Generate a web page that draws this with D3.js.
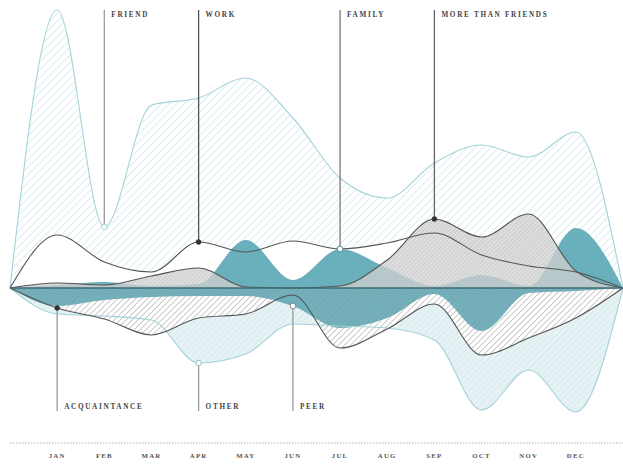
<!DOCTYPE html>
<html>
<head>
<meta charset="utf-8">
<script src="https://cdn.jsdelivr.net/npm/d3@7"></script>
<style>
  body { margin: 0; background: #fff; }
  text { font-family: 'Liberation Serif', 'DejaVu Serif', serif; font-weight: bold; }
</style>
</head>
<body>
<div id="chart"></div>
<script>
// Month labels
const months = ['JAN', 'FEB', 'MAR', 'APR', 'MAY', 'JUN', 'JUL', 'AUG', 'SEP', 'OCT', 'NOV', 'DEC'];

// Series above the baseline
const friend = [278, 61, 183, 190, 210, 170, 110, 90, 125, 143, 131, 156];
const work = [53, 26, 16, 46, 36, 47, 39, 45, 55, 33, 22, 16];
const family = [3, 6, 2, 4, 48, 8, 39, 20, 2, 13, 2, 60];
const moreThanFriends = [5, 3, 12, 20, 1, 0, 2, 28, 69, 51, 74, 17];

// Series below the baseline (depth)
const other = [26, 28, 32, 75, 66, 36, 38, 40, 52, 122, 82, 124];
const acquaintance = [20, 31, 47, 30, 26, 7, 60, 41, 16, 67, 50, 30];
const peer = [18, 12, 9, 8, 8, 18, 40, 30, 6, 43, 5, 3];

const width = 623;
const height = 464;

const svg = d3.select('#chart').append('svg')
  .attr('width', width)
  .attr('height', height);

// Hatch patterns
const defs = svg.append('defs');
function hatch(id, color, size, strokeWidth) {
  const p = defs.append('pattern')
    .attr('id', id)
    .attr('patternUnits', 'userSpaceOnUse')
    .attr('width', size)
    .attr('height', size)
    .attr('patternTransform', 'rotate(45)');
  p.append('line')
    .attr('x1', 0).attr('y1', 0).attr('x2', 0).attr('y2', size)
    .attr('stroke', color)
    .attr('stroke-width', strokeWidth);
}
hatch('hatchBlue', '#b6dae0', 5.5, 1);
hatch('hatchPale', '#c6e2e7', 4.5, 0.9);
hatch('hatchGray', '#959595', 4.2, 1);
hatch('hatchMtf', '#b3b3b3', 3, 0.8);

// Scales: edge points (index 0 and 13) sit on the baseline
const xScale = d3.scaleLinear().domain([0, 13]).range([10, 623]);
const yScale = d3.scaleLinear().domain([-140, 280]).range([428, 8]);

const pad = (vals) => [0, ...vals, 0];

function areaFor(sign) {
  return d3.area()
    .x((d, i) => xScale(i))
    .y0(yScale(0))
    .y1((d) => yScale(sign * d))
    .curve(d3.curveMonotoneX);
}
function lineFor(sign) {
  return d3.line()
    .x((d, i) => xScale(i))
    .y((d) => yScale(sign * d))
    .curve(d3.curveMonotoneX);
}
const up = areaFor(1), down = areaFor(-1);
const upLine = lineFor(1), downLine = lineFor(-1);

const g = svg.append('g');

// Fills, back to front
g.append('path').attr('d', up(pad(friend))).attr('fill', 'url(#hatchBlue)');
g.append('path').attr('d', down(pad(other))).attr('fill', '#e6f2f4');
g.append('path').attr('d', down(pad(other))).attr('fill', 'url(#hatchPale)');
g.append('path').attr('d', up(pad(work))).attr('fill', '#fff');
g.append('path').attr('d', down(pad(acquaintance))).attr('fill', '#fff');
g.append('path').attr('d', up(pad(family))).attr('fill', '#6aafbc');
g.append('path').attr('d', down(pad(peer))).attr('fill', '#5fa8b6').attr('opacity', 0.9);
g.append('path').attr('d', down(pad(acquaintance))).attr('fill', 'url(#hatchGray)');
g.append('path').attr('d', up(pad(moreThanFriends))).attr('fill', '#d4d4d4').attr('opacity', 0.75);
g.append('path').attr('d', up(pad(moreThanFriends))).attr('fill', 'url(#hatchMtf)');

// Outlines
g.append('path').attr('d', upLine(pad(friend))).attr('fill', 'none').attr('stroke', '#a3d2d9').attr('stroke-width', 1.1);
g.append('path').attr('d', downLine(pad(other))).attr('fill', 'none').attr('stroke', '#a3d2d9').attr('stroke-width', 1.1);
[[upLine, work], [upLine, moreThanFriends], [downLine, acquaintance]].forEach(([gen, vals]) => {
  g.append('path').attr('d', gen(pad(vals))).attr('fill', 'none').attr('stroke', '#555').attr('stroke-width', 1.1);
});

// Baseline
g.append('line')
  .attr('x1', xScale(0)).attr('x2', xScale(13))
  .attr('y1', yScale(0)).attr('y2', yScale(0))
  .attr('stroke', '#3e6b73').attr('stroke-width', 1.6);

// Callouts
const callouts = [
  { name: 'FRIEND', vals: friend, m: 1, side: 1, line: '#9a9a9a', dot: 'open', color: '#a3d2d9' },
  { name: 'WORK', vals: work, m: 3, side: 1, line: '#555', dot: 'fill', color: '#333' },
  { name: 'FAMILY', vals: family, m: 6, side: 1, line: '#777', dot: 'open', color: '#5d8f98' },
  { name: 'MORE THAN FRIENDS', vals: moreThanFriends, m: 8, side: 1, line: '#666', dot: 'fill', color: '#333' },
  { name: 'ACQUAINTANCE', vals: acquaintance, m: 0, side: -1, line: '#999', dot: 'fill', color: '#333' },
  { name: 'OTHER', vals: other, m: 3, side: -1, line: '#999', dot: 'open', color: '#8cc4cc' },
  { name: 'PEER', vals: peer, m: 5, side: -1, line: '#999', dot: 'open', color: '#888' },
];

const c = svg.append('g');
callouts.forEach((d) => {
  const x = xScale(d.m + 1);
  const y = yScale(d.side * d.vals[d.m]);
  const yEnd = d.side > 0 ? 10 : 411;
  c.append('line')
    .attr('x1', x).attr('x2', x)
    .attr('y1', yEnd).attr('y2', y)
    .attr('stroke', d.line).attr('stroke-width', 1.3);
  c.append('circle')
    .attr('cx', x).attr('cy', y)
    .attr('r', d.dot === 'fill' ? 2.3 : 2.8)
    .attr('fill', d.dot === 'fill' ? d.color : '#fff')
    .attr('stroke', d.color).attr('stroke-width', 1);
  c.append('text')
    .attr('x', x + 7)
    .attr('y', d.side > 0 ? 17 : 409)
    .attr('font-size', 7.2)
    .attr('letter-spacing', 1.7)
    .attr('fill', '#444')
    .text(d.name);
});

// Month axis
svg.append('line')
  .attr('x1', xScale(0)).attr('x2', xScale(13))
  .attr('y1', 443).attr('y2', 443)
  .attr('stroke', '#b0b0b0').attr('stroke-width', 1)
  .attr('stroke-dasharray', '1.5,1.5');

svg.append('g').selectAll('text')
  .data(months)
  .enter()
  .append('text')
  .attr('x', (d, i) => xScale(i + 1))
  .attr('y', 458)
  .attr('text-anchor', 'middle')
  .attr('font-size', 6.8)
  .attr('letter-spacing', 1.2)
  .attr('fill', '#555')
  .text((d) => d);
</script>
</body>
</html>
